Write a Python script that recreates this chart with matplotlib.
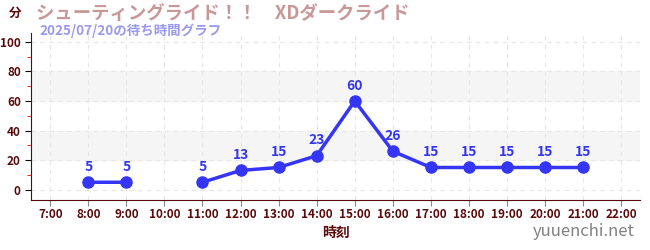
import numpy as np
import matplotlib.pyplot as plt
from matplotlib.ticker import MultipleLocator

plt.rcParams['font.family'] = ['Noto Sans CJK JP', 'DejaVu Sans']

hours = [7, 8, 9, 10, 11, 12, 13, 14, 15, 16, 17, 18, 19, 20, 21, 22]
waits = [np.nan, 5, 5, np.nan, 5, 13, 15, 23, 60, 26, 15, 15, 15, 15, 15, np.nan]
hour_labels = [f"{h}:00" for h in hours]

title = "シューティングライド！！　XDダークライド"
subtitle = "2025/07/20の待ち時間グラフ"

tick_col = '#5a0a0a'
line_col = '#3535f5'

fig = plt.figure(figsize=(6.5, 2.5), dpi=100)
ax = fig.add_axes([0.048, 0.2, 0.937, 0.668])

for lo, hi in [(20, 40), (60, 80)]:
    ax.axhspan(lo, hi, color='#f5f5f5', zorder=0)

ax.plot(hours, waits, color=line_col, lw=2.5, marker='o', ms=8, zorder=3)
for h, w in zip(hours, waits):
    if not np.isnan(w):
        ax.annotate(f"{int(w)}", (h, w), xytext=(0, 6), textcoords='offset points',
                    ha='center', va='bottom', color=line_col, fontsize=10, fontweight='bold')

ax.set_xlim(6.5, 22.5)
ax.set_ylim(-7, 106)
ax.set_xticks(hours)
ax.set_xticklabels(hour_labels)
ax.set_yticks([0, 20, 40, 60, 80, 100])
ax.yaxis.set_minor_locator(MultipleLocator(10))
ax.tick_params(axis='y', which='minor', length=3, color='red')
ax.tick_params(axis='y', which='major', length=4, color='black', labelsize=8.5, labelcolor=tick_col)
ax.tick_params(axis='x', length=4, color='#888888', labelsize=8.5, labelcolor=tick_col, pad=2)
for lab in ax.get_xticklabels() + ax.get_yticklabels():
    lab.set_fontweight('bold')

ax.grid(True, which='major', ls=(0, (4, 4)), color='#e6e6e6', lw=0.8)
ax.set_axisbelow(True)
for s in ['top', 'right']:
    ax.spines[s].set_visible(False)
ax.spines['left'].set_color(tick_col)
ax.spines['bottom'].set_color(tick_col)

ax.set_xlabel("時刻", color=tick_col, fontsize=10, fontweight='bold', labelpad=3)

fig.text(0.013, 0.945, "分", color=tick_col, fontsize=9, fontweight='bold', va='center')
fig.text(0.055, 0.945, title, color='#c89898', fontsize=13.2, fontweight='bold', va='center')
fig.text(0.061, 0.875, subtitle, color='#9999ee', fontsize=9.7, fontweight='bold', va='center')
fig.text(0.977, 0.072, "yuuenchi.net", color='#808080', fontsize=12, ha='right', va='center')

fig.savefig('out.png', dpi=100)
